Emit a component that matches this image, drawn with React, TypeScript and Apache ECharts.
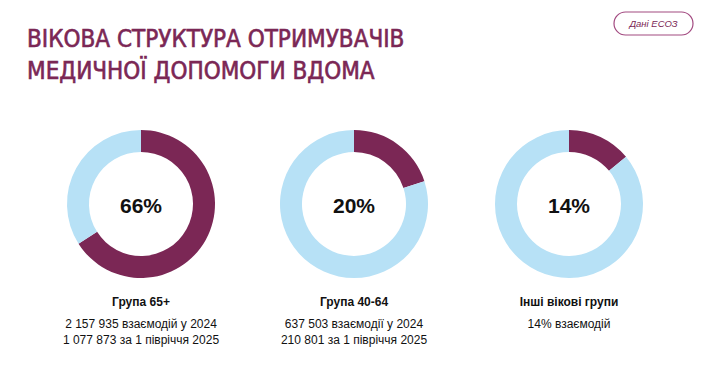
import React, { useEffect, useRef } from "react";
import * as echarts from "echarts";

const titleLines = ["ВІКОВА СТРУКТУРА ОТРИМУВАЧІВ", "МЕДИЧНОЇ ДОПОМОГИ ВДОМА"];
const badgeText = "Дані ЕСОЗ";
const groupNames = ["Група 65+", "Група 40-64", "Інші вікові групи"];
const sharePercents = [66, 20, 14];
const restPercents = [34, 80, 86];
const detailLines1 = ["2 157 935 взаємодій у 2024", "637 503 взаємодії у 2024", "14% взаємодій"];
const detailLines2 = ["1 077 873 за 1 півріччя 2025", "210 801 за 1 півріччя 2025", ""];

const MAROON = "#7B2755";
const LIGHT = "#B7E1F6";
const centersX = [141, 354, 569];
const centerY = 204;

export default function App() {
  const ref = useRef<HTMLDivElement>(null);
  useEffect(() => {
    document.body.style.margin = "0";
    const chart = echarts.init(ref.current!, null, { renderer: "svg" });
    const font = "'Liberation Sans', Arial, sans-serif";
    const series = sharePercents.map((v, i) => ({
      type: "pie",
      center: [centersX[i], centerY],
      radius: [52, 74],
      startAngle: 90,
      clockwise: true,
      silent: true,
      label: { show: false },
      labelLine: { show: false },
      itemStyle: { borderWidth: 0 },
      data: [
        { value: v, name: groupNames[i], itemStyle: { color: MAROON } },
        { value: restPercents[i], name: "rest", itemStyle: { color: LIGHT } },
      ],
    }));
    const graphics: any[] = [];
    titleLines.forEach((t, i) => {
      graphics.push({
        type: "text",
        x: 27,
        y: 39 + i * 32,
        style: {
          text: t,
          fill: MAROON,
          stroke: MAROON,
          lineWidth: 0.6,
          font: "24px 'Liberation Sans Narrow', 'DejaVu Sans Condensed', sans-serif",
          textVerticalAlign: "middle",
          textAlign: "left",
        },
      });
    });
    graphics.push({
      type: "rect",
      shape: { x: 614, y: 12, width: 79, height: 23, r: 11.5 },
      style: { fill: "#fff", stroke: "#A24A80", lineWidth: 1.2 },
    });
    graphics.push({
      type: "text",
      x: 653.5,
      y: 23.5,
      style: {
        text: badgeText,
        fill: MAROON,
        font: `italic 9.5px ${font}`,
        textAlign: "center",
        textVerticalAlign: "middle",
      },
    });
    sharePercents.forEach((v, i) => {
      graphics.push({
        type: "text",
        x: centersX[i],
        y: centerY + 1,
        style: {
          text: v + "%",
          fill: "#111",
          font: `bold 21px ${font}`,
          textAlign: "center",
          textVerticalAlign: "middle",
        },
      });
      graphics.push({
        type: "text",
        x: centersX[i],
        y: 302,
        style: {
          text: groupNames[i],
          fill: "#111",
          font: `bold 12px ${font}`,
          textAlign: "center",
          textVerticalAlign: "middle",
        },
      });
      graphics.push({
        type: "text",
        x: centersX[i],
        y: 324,
        style: {
          text: detailLines1[i],
          fill: "#111",
          font: `12px ${font}`,
          textAlign: "center",
          textVerticalAlign: "middle",
        },
      });
      if (detailLines2[i]) {
        graphics.push({
          type: "text",
          x: centersX[i],
          y: 340,
          style: {
            text: detailLines2[i],
            fill: "#111",
            font: `12px ${font}`,
            textAlign: "center",
            textVerticalAlign: "middle",
          },
        });
      }
    });
    chart.setOption({
      animation: false,
      backgroundColor: "#fff",
      series,
      graphic: graphics,
    });
    return () => chart.dispose();
  }, []);
  return <div ref={ref} style={{ width: 703, height: 388 }} />;
}
